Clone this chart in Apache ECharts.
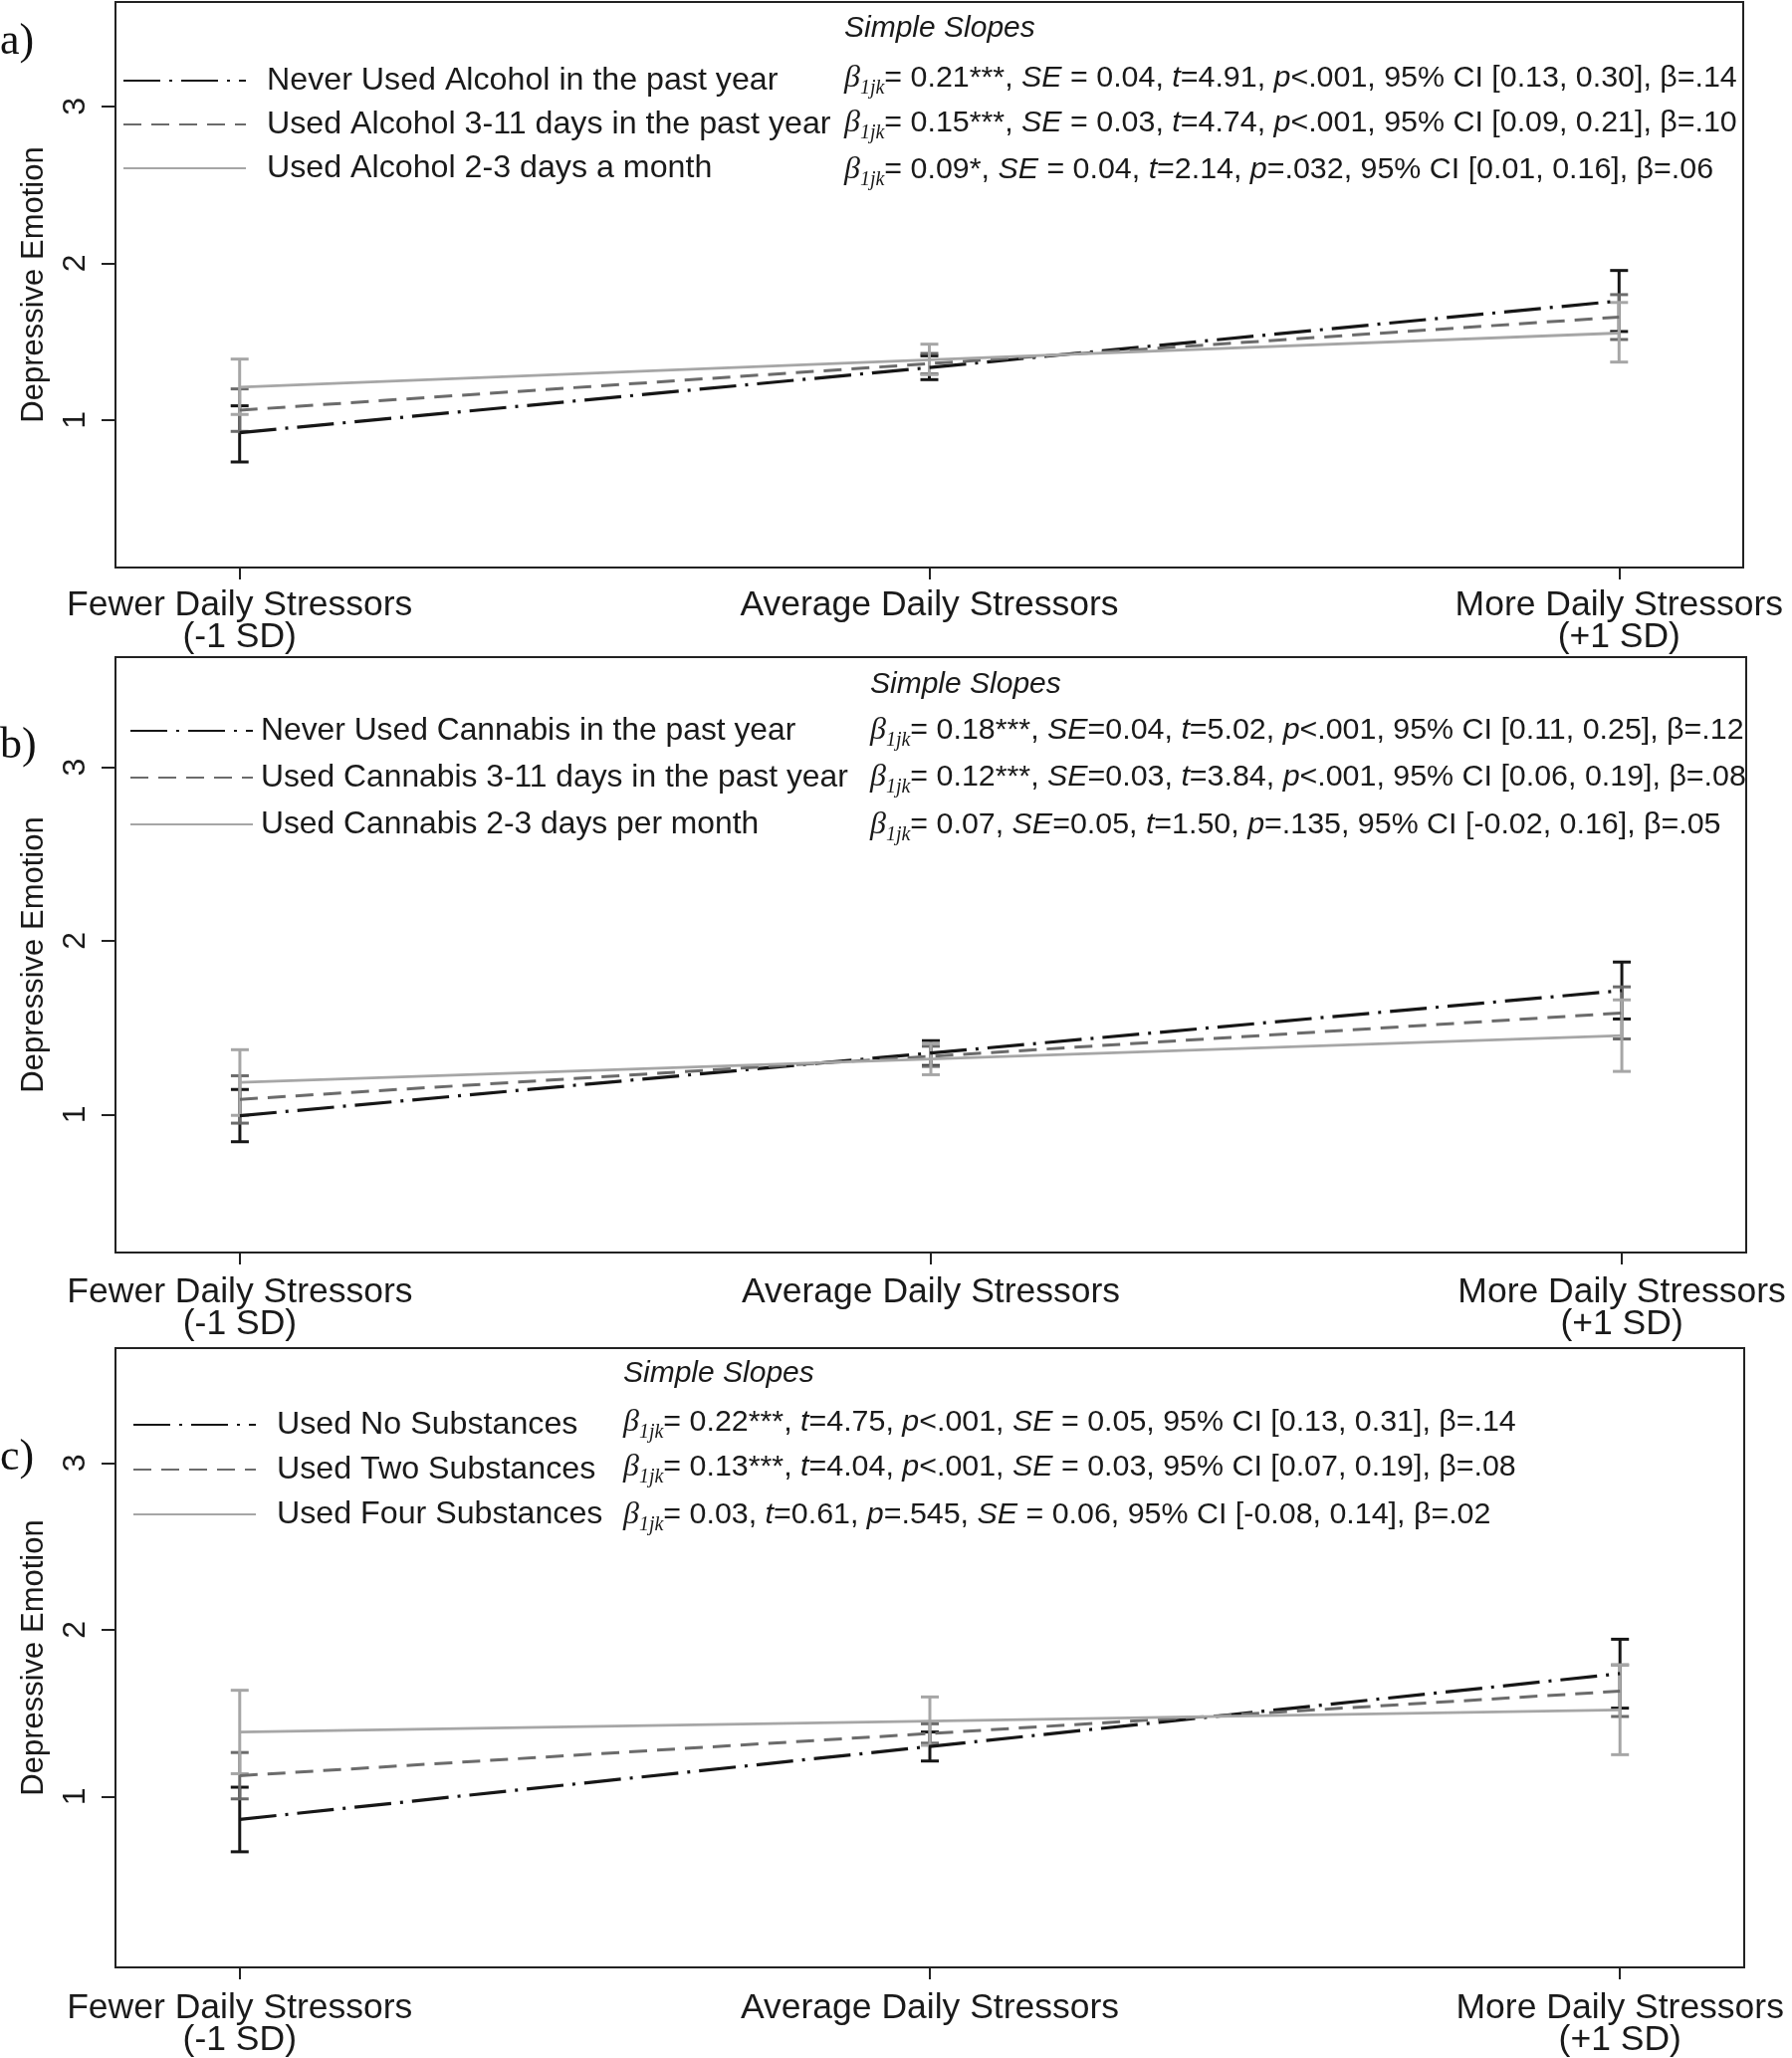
<!DOCTYPE html>
<html>
<head>
<meta charset="utf-8">
<script src="https://cdn.jsdelivr.net/npm/echarts@6.0.0/dist/echarts.min.js"></script>
<style>
html,body{margin:0;padding:0;background:#ffffff;}
#chart{width:1800px;height:2067px;}
</style>
</head>
<body>
<div id="chart"></div>
<script>
// ---------- data ----------
const xVals = [-1, 0, 1];
const xLabels = ['Fewer Daily Stressors\n(-1 SD)', 'Average Daily Stressors', 'More Daily Stressors\n(+1 SD)'];
const yTickVals = [1, 2, 3];
const yTitle = 'Depressive Emotion';
const panelTags = ['a)', 'b)', 'c)'];
const slopesTitle = 'Simple Slopes';

// Panel a: alcohol
const alcoholNames = ['Never Used Alcohol in the past year', 'Used Alcohol 3-11 days in the past year', 'Used Alcohol 2-3 days a month'];
const alcNeverMean = [0.92, 1.335, 1.76];
const alcNeverLo   = [0.733, 1.258, 1.565];
const alcNeverHi   = [1.091, 1.41, 1.954];
const alc311Mean   = [1.063, 1.36, 1.657];
const alc311Lo     = [0.928, 1.295, 1.514];
const alc311Hi     = [1.199, 1.425, 1.80];
const alc23Mean    = [1.21, 1.385, 1.555];
const alc23Lo      = [1.036, 1.29, 1.37];
const alc23Hi      = [1.389, 1.484, 1.75];
const alcoholStats = [
  '‹β›_1jk_= 0.21***, «SE» = 0.04, «t»=4.91, «p»<.001, 95% CI [0.13, 0.30], β=.14',
  '‹β›_1jk_= 0.15***, «SE» = 0.03, «t»=4.74, «p»<.001, 95% CI [0.09, 0.21], β=.10',
  '‹β›_1jk_= 0.09*, «SE» = 0.04, «t»=2.14, «p»=.032, 95% CI [0.01, 0.16], β=.06'
];

// Panel b: cannabis
const cannabisNames = ['Never Used Cannabis in the past year', 'Used Cannabis 3-11 days in the past year', 'Used Cannabis 2-3 days per month'];
const canNeverMean = [0.993, 1.354, 1.714];
const canNeverLo   = [0.843, 1.282, 1.55];
const canNeverHi   = [1.144, 1.425, 1.878];
const can311Mean   = [1.087, 1.335, 1.585];
const can311Lo     = [0.95, 1.277, 1.435];
const can311Hi     = [1.223, 1.393, 1.735];
const can23Mean    = [1.185, 1.32, 1.454];
const can23Lo      = [0.995, 1.229, 1.248];
const can23Hi      = [1.373, 1.41, 1.66];
const cannabisStats = [
  '‹β›_1jk_= 0.18***, «SE»=0.04, «t»=5.02, «p»<.001, 95% CI [0.11, 0.25], β=.12',
  '‹β›_1jk_= 0.12***, «SE»=0.03, «t»=3.84, «p»<.001, 95% CI [0.06, 0.19], β=.08',
  '‹β›_1jk_= 0.07, «SE»=0.05, «t»=1.50, «p»=.135, 95% CI [-0.02, 0.16], β=.05'
];

// Panel c: substances
const substanceNames = ['Used No Substances', 'Used Two Substances', 'Used Four Substances'];
const subNoneMean = [0.863, 1.30, 1.737];
const subNoneLo   = [0.669, 1.213, 1.53];
const subNoneHi   = [1.056, 1.387, 1.943];
const subTwoMean  = [1.125, 1.378, 1.632];
const subTwoLo    = [0.986, 1.32, 1.48];
const subTwoHi    = [1.264, 1.436, 1.789];
const subFourMean = [1.387, 1.452, 1.52];
const subFourLo   = [1.137, 1.307, 1.251];
const subFourHi   = [1.637, 1.597, 1.789];
const substanceStats = [
  '‹β›_1jk_= 0.22***, «t»=4.75, «p»<.001, «SE» = 0.05, 95% CI [0.13, 0.31], β=.14',
  '‹β›_1jk_= 0.13***, «t»=4.04, «p»<.001, «SE» = 0.03, 95% CI [0.07, 0.19], β=.08',
  '‹β›_1jk_= 0.03, «t»=0.61, «p»=.545, «SE» = 0.06, 95% CI [-0.08, 0.14], β=.02'
];

// y-axis display ranges per panel
const yMins = [0.06, 0.205, -0.024];
const yMaxs = [3.666, 3.634, 3.688];

// ---------- layout / style ----------
const SANS = "'Liberation Sans', Arial, Helvetica, sans-serif";
const SERIF = "'Liberation Serif', 'Times New Roman', serif";
const TXT = '#1a1a1a';
const AXC = '#222222';
const groupColors = ['#161616', '#6b6b6b', '#a6a6a6'];
const groupWidths = [3.2, 3, 2.8];
const groupDash = [[37, 9, 3, 9], [18, 10], 'solid'];

const grids = [
  { left: 116, right: 49, top: 2, height: 568 },
  { left: 116, right: 46, top: 660, height: 598 },
  { left: 116, right: 48, top: 1354, height: 622 }
];
const legendTops = [65, 718, 1415];
const legendLefts = [123, 130, 133];
const legendGaps = [12, 15, 13];
const legendPads = [16, 3, 16];
const legendFont = [32.2, 31.8, 32.2];
const xLabelMargins = [22, 24, 25];
const statsX = [848, 874, 626];
const statsTitleY = [29, 688, 1380];
const statsRowY = [[79, 124, 171], [734, 781, 829], [1429, 1474, 1522]];
const tagY = [42, 749, 1464];

const panels = [
  { names: alcoholNames, stats: alcoholStats,
    groups: [[alcNeverMean, alcNeverLo, alcNeverHi], [alc311Mean, alc311Lo, alc311Hi], [alc23Mean, alc23Lo, alc23Hi]] },
  { names: cannabisNames, stats: cannabisStats,
    groups: [[canNeverMean, canNeverLo, canNeverHi], [can311Mean, can311Lo, can311Hi], [can23Mean, can23Lo, can23Hi]] },
  { names: substanceNames, stats: substanceStats,
    groups: [[subNoneMean, subNoneLo, subNoneHi], [subTwoMean, subTwoLo, subTwoHi], [subFourMean, subFourLo, subFourHi]] }
];

function toRich(s) {
  const parts = s.split(/(‹[^›]*›|_[^_]*_|«[^»]*»)/).filter(p => p.length);
  return parts.map(p => {
    if (p[0] === '‹') return '{b|' + p.slice(1, -1) + '}';
    if (p[0] === '_') return '{s|' + p.slice(1, -1) + '}';
    if (p[0] === '«') return '{i|' + p.slice(1, -1) + '}';
    return '{n|' + p + '}';
  }).join('');
}
const STF = 30.4;
const richStyles = {
  n: { fontSize: STF, fontFamily: SANS, fill: TXT, lineHeight: 40, verticalAlign: 'middle' },
  i: { fontSize: STF, fontFamily: SANS, fontStyle: 'italic', fill: TXT, lineHeight: 40, verticalAlign: 'middle' },
  b: { fontSize: 32, fontFamily: SERIF, fontStyle: 'italic', fill: TXT, lineHeight: 40, verticalAlign: 'middle' },
  s: { fontSize: 20, fontFamily: SERIF, fontStyle: 'italic', fill: TXT, lineHeight: 24, verticalAlign: 'bottom' }
};

function errorBarRenderer(color, width) {
  return function (params, api) {
    const x = api.value(0), lo = api.value(1), hi = api.value(2);
    const pLo = api.coord([x, lo]);
    const pHi = api.coord([x, hi]);
    const w = 9;
    const st = { stroke: color, lineWidth: width };
    return {
      type: 'group',
      children: [
        { type: 'line', shape: { x1: pLo[0], y1: pLo[1], x2: pHi[0], y2: pHi[1] }, style: st },
        { type: 'line', shape: { x1: pLo[0] - w, y1: pLo[1], x2: pLo[0] + w, y2: pLo[1] }, style: st },
        { type: 'line', shape: { x1: pHi[0] - w, y1: pHi[1], x2: pHi[0] + w, y2: pHi[1] }, style: st }
      ]
    };
  };
}

const xAxes = [], yAxes = [], series = [], legends = [], graphics = [];
panels.forEach((panel, p) => {
  xAxes.push({
    type: 'value', gridIndex: p, min: -1.18, max: 1.18,
    axisLine: { show: false, onZero: false },
    splitLine: { show: false },
    axisTick: { show: true, customValues: xVals, length: 12, lineStyle: { color: AXC, width: 2 } },
    axisLabel: {
      customValues: xVals, margin: xLabelMargins[p], fontSize: 35.5, lineHeight: 32, color: TXT, fontFamily: SANS,
      formatter: v => xLabels[xVals.indexOf(Math.round(v))] || ''
    }
  });
  yAxes.push({
    type: 'value', gridIndex: p, min: yMins[p], max: yMaxs[p],
    axisLine: { show: false, onZero: false },
    splitLine: { show: false },
    axisTick: { show: true, customValues: yTickVals, length: 14, lineStyle: { color: AXC, width: 2 } },
    axisLabel: { customValues: yTickVals, rotate: 90, margin: 24, fontSize: 32, color: TXT, fontFamily: SANS,
      formatter: v => String(Math.round(v)) },
    name: yTitle, nameLocation: 'middle', nameRotate: 90, nameGap: 66,
    nameTextStyle: { fontSize: 31, color: TXT, fontFamily: SANS }
  });
  panel.groups.forEach((g, k) => {
    const [mean, lo, hi] = g;
    series.push({
      type: 'custom', name: 'ci-' + p + '-' + k, xAxisIndex: p, yAxisIndex: p, z: 2 + k * 0.1,
      silent: true, animation: false,
      encode: { x: 0, y: [1, 2] },
      data: xVals.map((x, i) => [x, lo[i], hi[i]]),
      renderItem: errorBarRenderer(groupColors[k], 3)
    });
  });
  panel.groups.forEach((g, k) => {
    const mean = g[0];
    series.push({
      type: 'line', name: panel.names[k], xAxisIndex: p, yAxisIndex: p, z: 3 + k * 0.1,
      symbol: 'none', silent: true, animation: false,
      data: xVals.map((x, i) => [x, mean[i]]),
      lineStyle: { color: groupColors[k], width: groupWidths[k], type: groupDash[k] },
      itemStyle: { color: groupColors[k] }
    });
  });
  legends.push({
    data: panel.names, orient: 'vertical', left: legendLefts[p], top: legendTops[p],
    padding: 0, itemWidth: 123, itemHeight: 30, itemGap: legendGaps[p], selectedMode: false,
    itemStyle: { opacity: 0, borderWidth: 0 },
    textStyle: { fontSize: legendFont[p], lineHeight: 30, color: TXT, fontFamily: SANS, padding: [0, 0, 0, legendPads[p]] }
  });
  graphics.push({
    type: 'text', x: 0, y: tagY[p], silent: true,
    style: { text: panelTags[p], fontSize: 44, fontFamily: SERIF, fill: '#111', verticalAlign: 'middle', align: 'left' }
  });
  graphics.push({
    type: 'text', x: statsX[p], y: statsTitleY[p], silent: true,
    style: { text: slopesTitle, fontSize: 30, fontStyle: 'italic', fontFamily: SANS, fill: TXT, verticalAlign: 'middle', align: 'left' }
  });
  panel.stats.forEach((s, k) => {
    graphics.push({
      type: 'text', x: statsX[p], y: statsRowY[p][k], silent: true,
      style: { text: toRich(s), rich: richStyles, fontSize: STF, fontFamily: SANS, fill: TXT, verticalAlign: 'middle', align: 'left' }
    });
  });
});

const chart = echarts.init(document.getElementById('chart'), null, { renderer: 'canvas' });
chart.setOption({
  backgroundColor: '#ffffff',
  animation: false,
  grid: grids.map(g => Object.assign({ show: true, borderColor: AXC, borderWidth: 2, backgroundColor: 'transparent' }, g)),
  xAxis: xAxes,
  yAxis: yAxes,
  legend: legends,
  series: series,
  graphic: graphics
});
</script>
</body>
</html>
